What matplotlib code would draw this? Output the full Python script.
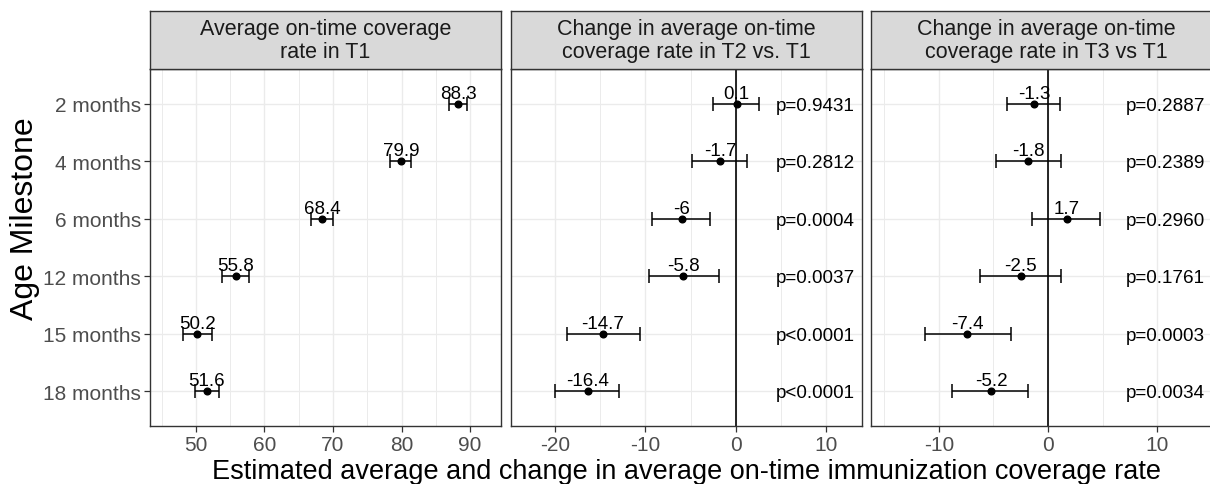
"""
Forest-style panels: T1 on-time coverage and change in T2 / T3 vs T1
"""

import numpy as np
import matplotlib
matplotlib.use("Agg")
import matplotlib.pyplot as plt
from matplotlib.ticker import FixedLocator

plt.rcParams["font.family"] = ["Liberation Sans", "DejaVu Sans"]
plt.rcParams["axes.unicode_minus"] = False

milestones = ["2 months", "4 months", "6 months", "12 months", "15 months", "18 months"]

# Average on-time coverage in T1
t1_est = [88.3, 79.9, 68.4, 55.8, 50.2, 51.6]
t1_lo = [86.9, 78.3, 66.8, 53.8, 48.1, 49.9]
t1_hi = [89.5, 81.4, 70.0, 57.7, 52.3, 53.4]

# Change T2 vs T1
t2_est = [0.1, -1.7, -6, -5.8, -14.7, -16.4]
t2_lo = [-2.5, -4.8, -9.3, -9.6, -18.7, -20.0]
t2_hi = [2.6, 1.3, -2.8, -1.9, -10.6, -12.9]
t2_p = ["p=0.9431", "p=0.2812", "p=0.0004", "p=0.0037", "p<0.0001", "p<0.0001"]

# Change T3 vs T1
t3_est = [-1.3, -1.8, 1.7, -2.5, -7.4, -5.2]
t3_lo = [-3.8, -4.8, -1.5, -6.2, -11.3, -8.8]
t3_hi = [1.1, 1.2, 4.7, 1.2, -3.4, -1.8]
t3_p = ["p=0.2887", "p=0.2389", "p=0.2960", "p=0.1761", "p=0.0003", "p=0.0034"]

titles = [
    "Average on-time coverage\nrate in T1",
    "Change in average on-time\ncoverage rate in T2 vs. T1",
    "Change in average on-time\ncoverage rate in T3 vs T1",
]

BORDER = "#333333"
GRID = "#EBEBEB"
TICK_TXT = "#4D4D4D"

W, H = 1210, 485
PANEL_LEFT = [150, 511, 871]
PANEL_W = 351
PANEL_TOP, PANEL_BOT = 70, 427
STRIP_TOP = 12


def draw_panel(ax, est, lo, hi, xlim, major, minor, pvals=None, p_x=None, zero=False):
    est, lo, hi = np.array(est), np.array(lo), np.array(hi)
    y = np.arange(len(milestones))

    ax.set_xlim(*xlim)
    ax.set_ylim(len(milestones) - 0.4, -0.6)
    ax.xaxis.set_major_locator(FixedLocator(major))
    ax.xaxis.set_minor_locator(FixedLocator(minor))
    ax.set_yticks(y)
    ax.grid(True, which="major", color=GRID, lw=1.0, zorder=0)
    ax.grid(True, which="minor", axis="x", color=GRID, lw=0.7, zorder=0)
    ax.set_axisbelow(True)

    if zero:
        ax.axvline(0, color="black", lw=1.2, zorder=1)

    ax.errorbar(est, y, xerr=[est - lo, hi - est], fmt="o", color="black",
                ms=4.8, elinewidth=1.1, capsize=4.7, capthick=1.1, zorder=3)

    for v, yy in zip(est, y):
        ax.annotate(f"{v:g}", (v, yy), xytext=(0, 4.3), textcoords="offset points",
                    ha="center", va="baseline", fontsize=13.5, color="black")

    if pvals is not None:
        for p, yy in zip(pvals, y):
            ax.annotate(p, (p_x, yy), xytext=(0, -4.3), textcoords="offset points",
                        ha="center", va="baseline", fontsize=13.6, color="black")

    for s in ax.spines.values():
        s.set_color(BORDER)
        s.set_linewidth(1.0)
    ax.tick_params(axis="both", which="major", color=BORDER, length=4, width=0.9,
                   labelsize=15, labelcolor=TICK_TXT, pad=2.5)
    ax.tick_params(axis="x", which="minor", length=0)


fig = plt.figure(figsize=(W / 100, H / 100), dpi=100)

axes = []
for i, left in enumerate(PANEL_LEFT):
    ax = fig.add_axes([left / W, 1 - PANEL_BOT / H, PANEL_W / W,
                       (PANEL_BOT - PANEL_TOP) / H])
    strip = fig.add_axes([left / W, 1 - PANEL_TOP / H, PANEL_W / W,
                          (PANEL_TOP - STRIP_TOP) / H])
    strip.set_facecolor("#D9D9D9")
    strip.set_xticks([])
    strip.set_yticks([])
    for s in strip.spines.values():
        s.set_color(BORDER)
        s.set_linewidth(1.0)
    strip.text(0.5, 0.5, titles[i], transform=strip.transAxes, ha="center",
               va="center", fontsize=15.5, color="#1A1A1A", linespacing=1.1)
    axes.append(ax)

draw_panel(axes[0], t1_est, t1_lo, t1_hi, (43.3, 94.5),
           [50, 60, 70, 80, 90], [45, 55, 65, 75, 85, 95])
draw_panel(axes[1], t2_est, t2_lo, t2_hi, (-24.9, 14.0),
           [-20, -10, 0, 10], [-15, -5, 5], pvals=t2_p, p_x=8.8, zero=True)
draw_panel(axes[2], t3_est, t3_lo, t3_hi, (-16.2, 15.9),
           [-10, 0, 10], [-15, -5, 5, 15], pvals=t3_p, p_x=10.7, zero=True)

axes[0].set_yticklabels(milestones)
for ax in axes[1:]:
    ax.tick_params(axis="y", left=False, labelleft=False)

fig.text(33 / W, 1 - 219 / H, "Age Milestone", rotation=90, rotation_mode="anchor",
         ha="center", va="baseline", fontsize=23, color="black")
fig.text(686 / W, 1 - 479 / H,
         "Estimated average and change in average on-time immunization coverage rate",
         ha="center", va="baseline", fontsize=19.5, color="black")

fig.savefig("out.png", dpi=100)
